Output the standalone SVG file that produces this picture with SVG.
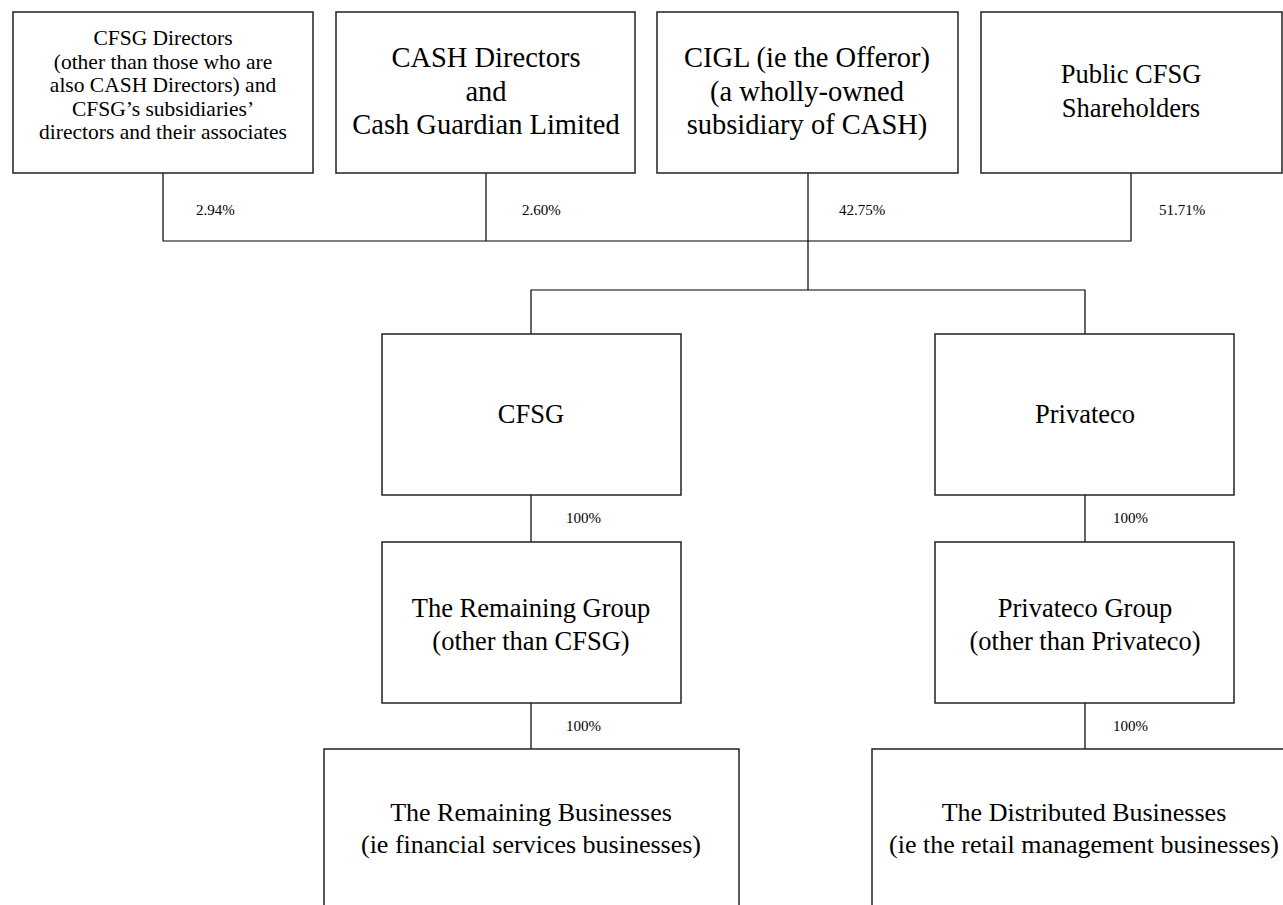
<svg xmlns="http://www.w3.org/2000/svg" width="1283" height="905" viewBox="0 0 1283 905">
<style>
.box{fill:#fff;stroke:#222;stroke-width:1.5}
.ln{fill:none;stroke:#000;stroke-width:1.2}
text{font-family:"Liberation Serif","Times New Roman",serif;fill:#000;text-anchor:middle}
.pct{font-size:15px;text-anchor:start}
.t21{font-size:21.5px}
.t28{font-size:28.5px}
.t26{font-size:26.5px}
.t25{font-size:26px}
</style>
<rect width="1283" height="905" fill="#fff"/>
<g id="connectors">
<path class="ln" d="M163,173V241H1131V173M486,173V241M808,173V290M531,334V290H1085V334"/>
<path class="ln" d="M531,495V542M531,703V749M1085,495V542M1085,703V749"/>
<text class="pct" x="196" y="215">2.94%</text>
<text class="pct" x="522" y="215">2.60%</text>
<text class="pct" x="839" y="215">42.75%</text>
<text class="pct" x="1159" y="215">51.71%</text>
<text class="pct" x="566" y="523">100%</text>
<text class="pct" x="1113" y="523">100%</text>
<text class="pct" x="566" y="731">100%</text>
<text class="pct" x="1113" y="731">100%</text>
</g>
<g id="cfsg-directors">
<rect class="box" x="13" y="12" width="300" height="161"/>
<text class="t21" x="163" y="45">CFSG Directors</text>
<text class="t21" x="163" y="68.5">(other than those who are</text>
<text class="t21" x="163" y="92">also CASH Directors) and</text>
<text class="t21" x="163" y="115.5">CFSG’s subsidiaries’</text>
<text class="t21" x="163" y="139">directors and their associates</text>
</g>
<g id="cash-directors">
<rect class="box" x="336" y="12" width="299" height="161"/>
<text class="t28" x="486" y="67">CASH Directors</text>
<text class="t28" x="486" y="101">and</text>
<text class="t28" x="486" y="134">Cash Guardian Limited</text>
</g>
<g id="cigl">
<rect class="box" x="657" y="12" width="301" height="161"/>
<text class="t28" x="807" y="67">CIGL (ie the Offeror)</text>
<text class="t28" x="807" y="101">(a wholly-owned</text>
<text class="t28" x="807" y="134">subsidiary of CASH)</text>
</g>
<g id="public-shareholders">
<rect class="box" x="981" y="12" width="301" height="161"/>
<text class="t26" x="1131" y="83">Public CFSG</text>
<text class="t26" x="1131" y="117">Shareholders</text>
</g>
<g id="cfsg">
<rect class="box" x="382" y="334" width="299" height="161"/>
<text class="t26" x="531" y="423">CFSG</text>
</g>
<g id="privateco">
<rect class="box" x="935" y="334" width="299" height="161"/>
<text class="t26" x="1085" y="423">Privateco</text>
</g>
<g id="remaining-group">
<rect class="box" x="382" y="542" width="299" height="161"/>
<text class="t26" x="531" y="617">The Remaining Group</text>
<text class="t26" x="531" y="650">(other than CFSG)</text>
</g>
<g id="privateco-group">
<rect class="box" x="935" y="542" width="299" height="161"/>
<text class="t26" x="1085" y="617">Privateco Group</text>
<text class="t26" x="1085" y="650">(other than Privateco)</text>
</g>
<g id="remaining-businesses">
<rect class="box" x="324" y="749" width="415" height="170"/>
<text class="t25" x="531" y="821">The Remaining Businesses</text>
<text class="t25" x="531" y="853">(ie financial services businesses)</text>
</g>
<g id="distributed-businesses">
<rect class="box" x="872" y="749" width="424" height="170"/>
<text class="t25" x="1084" y="821">The Distributed Businesses</text>
<text class="t25" x="1084" y="853">(ie the retail management businesses)</text>
</g>
</svg>
